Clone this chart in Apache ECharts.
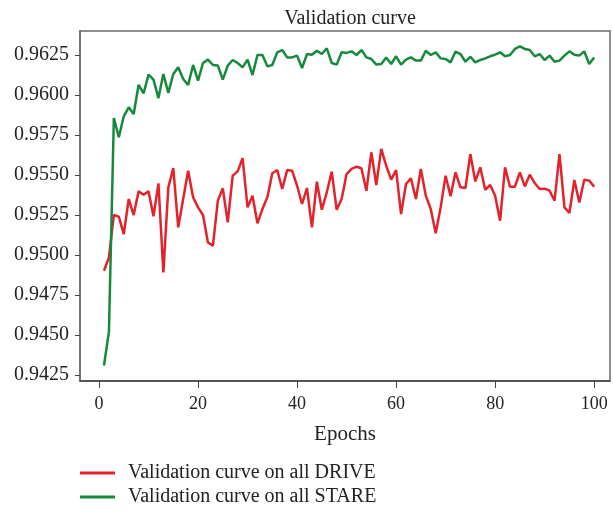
<!DOCTYPE html>
<html>
<head>
    <meta charset="utf-8">
    <title>Validation curve</title>
    <script src="https://cdn.jsdelivr.net/npm/echarts@6.0.0/dist/echarts.min.js"></script>
</head>
<body style="margin:0">
    <div id="main" style="width: 614px;height:513px;"></div>

<script>
// epochs 1..100
const epochs = Array.from({length: 100}, (_, i) => i + 1);

const driveValues = [
    0.94902, 0.94985, 0.95250, 0.95240, 0.95131, 0.95350, 0.95250, 0.95398, 0.95377, 0.95398,
    0.95242, 0.95448, 0.94892, 0.95423, 0.95544, 0.95173, 0.95350, 0.95527, 0.95361, 0.95298,
    0.95250, 0.95079, 0.95058, 0.95340, 0.95417, 0.95204, 0.95496, 0.95523, 0.95606, 0.95298,
    0.95371, 0.95198, 0.95288, 0.95361, 0.95511, 0.95531, 0.95413, 0.95531, 0.95527, 0.95433,
    0.95319, 0.95419, 0.95173, 0.95458, 0.95283, 0.95392, 0.95521, 0.95283, 0.95350, 0.95506,
    0.95538, 0.95552, 0.95542, 0.95402, 0.95642, 0.95438, 0.95663, 0.95558, 0.95471, 0.95531,
    0.95256, 0.95444, 0.95479, 0.95350, 0.95538, 0.95371, 0.95288, 0.95136, 0.95298, 0.95496,
    0.95367, 0.95517, 0.95423, 0.95419, 0.95631, 0.95460, 0.95548, 0.95408, 0.95438, 0.95371,
    0.95215, 0.95548, 0.95427, 0.95427, 0.95517, 0.95429, 0.95502, 0.95450, 0.95413, 0.95415,
    0.95402, 0.95340, 0.95631, 0.95298, 0.95263, 0.95469, 0.95329, 0.95471, 0.95465, 0.95427
];

const stareValues = [
    0.94310, 0.94520, 0.95856, 0.95736, 0.95867, 0.95923, 0.95881, 0.96064, 0.96010, 0.96127,
    0.96096, 0.95981, 0.96131, 0.96013, 0.96131, 0.96173, 0.96100, 0.96063, 0.96188, 0.96090,
    0.96200, 0.96221, 0.96188, 0.96184, 0.96096, 0.96184, 0.96219, 0.96200, 0.96173, 0.96221,
    0.96125, 0.96250, 0.96250, 0.96179, 0.96188, 0.96267, 0.96281, 0.96235, 0.96235, 0.96246,
    0.96169, 0.96256, 0.96252, 0.96277, 0.96256, 0.96292, 0.96200, 0.96190, 0.96267, 0.96263,
    0.96273, 0.96250, 0.96281, 0.96235, 0.96225, 0.96190, 0.96194, 0.96235, 0.96194, 0.96242,
    0.96190, 0.96221, 0.96235, 0.96215, 0.96215, 0.96277, 0.96250, 0.96267, 0.96229, 0.96225,
    0.96204, 0.96271, 0.96256, 0.96208, 0.96238, 0.96204, 0.96219, 0.96229, 0.96242, 0.96252,
    0.96267, 0.96242, 0.96250, 0.96288, 0.96304, 0.96288, 0.96281, 0.96242, 0.96256, 0.96219,
    0.96246, 0.96208, 0.96215, 0.96246, 0.96273, 0.96252, 0.96246, 0.96273, 0.96194, 0.96235
];

const xTicks = [0, 20, 40, 60, 80, 100];
const yTicks = [0.9425, 0.9450, 0.9475, 0.9500, 0.9525, 0.9550, 0.9575, 0.9600, 0.9625];

const seriesNames = ['Validation curve on all DRIVE', 'Validation curve on all STARE'];

const FONT = '"Liberation Serif", "DejaVu Serif", serif';

const myChart = echarts.init(document.getElementById('main'));

const option = {
    animation: false,
    title: {
        text: 'Validation curve',
        left: 345,
        textAlign: 'center',
        top: 4,
        textStyle: { fontFamily: FONT, fontSize: 20, fontWeight: 'normal', color: '#222' }
    },
    grid: {
        left: 80, top: 31, right: 4, bottom: 132,
        show: true,
        borderColor: '#6a6a6a',
        borderWidth: 1.5
    },
    legend: {
        orient: 'vertical',
        left: 80,
        top: 463,
        padding: 0,
        itemWidth: 35,
        itemHeight: 3,
        itemGap: 4,
        icon: 'rect',
        textStyle: { fontFamily: FONT, fontSize: 20, color: '#222', padding: [0, 0, 0, 8] },
        data: seriesNames
    },
    xAxis: {
        type: 'value',
        min: -3.84,
        max: 103.2,
        name: 'Epochs',
        nameLocation: 'middle',
        nameGap: 43,
        nameTextStyle: { fontFamily: FONT, fontSize: 21, color: '#222' },
        axisLine: { show: true, onZero: false, lineStyle: { color: '#444', width: 1.5 } },
        axisTick: { show: true, inside: false, length: 7, customValues: xTicks, lineStyle: { color: '#444' } },
        axisLabel: { customValues: xTicks, margin: 14, fontFamily: FONT, fontSize: 18, color: '#222' },
        splitLine: { show: false }
    },
    yAxis: {
        type: 'value',
        min: 0.94213,
        max: 0.9640,
        axisLine: { show: true, onZero: false, lineStyle: { color: '#6a6a6a', width: 1.5 } },
        axisTick: { show: true, length: 5, customValues: yTicks, lineStyle: { color: '#444' } },
        axisLabel: {
            customValues: yTicks,
            margin: 11,
            fontFamily: FONT, fontSize: 20, color: '#222',
            formatter: v => v.toFixed(4)
        },
        splitLine: { show: false }
    },
    series: [
        {
            name: seriesNames[0],
            type: 'line',
            symbol: 'none',
            color: '#e3222b',
            lineStyle: { width: 2.5, color: '#e3222b' },
            data: epochs.map((e, i) => [e, driveValues[i]])
        },
        {
            name: seriesNames[1],
            type: 'line',
            symbol: 'none',
            color: '#168a3c',
            lineStyle: { width: 2.5, color: '#168a3c' },
            data: epochs.map((e, i) => [e, stareValues[i]])
        }
    ]
};

myChart.setOption(option);
</script>
</body>
</html>
